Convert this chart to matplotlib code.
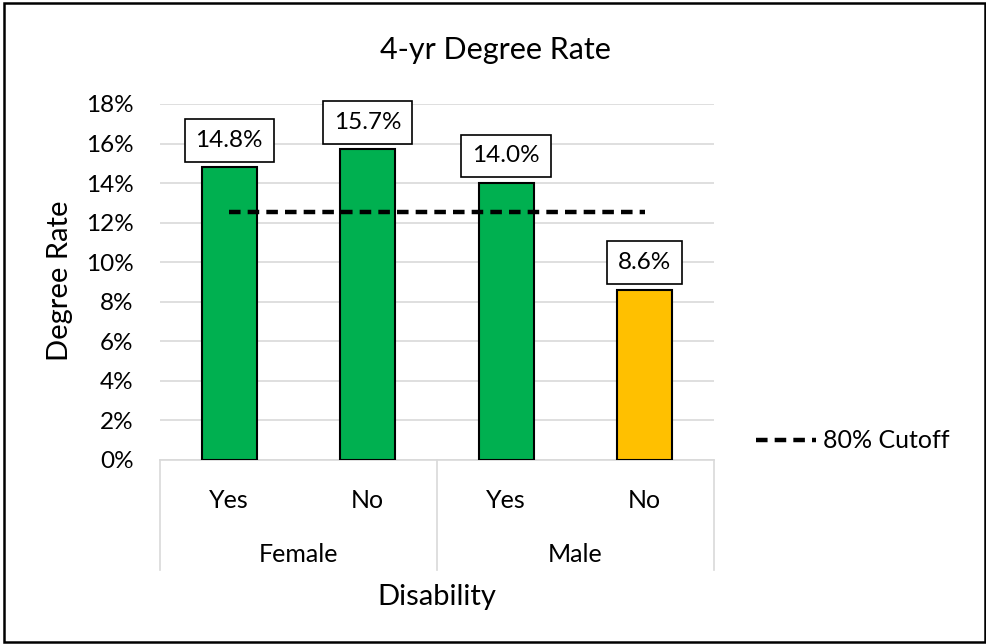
import matplotlib
matplotlib.use("Agg")
import matplotlib.pyplot as plt
import matplotlib.transforms as mtransforms
from matplotlib.lines import Line2D
from matplotlib.patches import Rectangle
from matplotlib.ticker import PercentFormatter

plt.rcParams['font.family'] = ['Lato', 'DejaVu Sans']

# data
disability = ["Yes", "No", "Yes", "No"]
gender = ["Female", "Male"]
degree_rate = [0.148, 0.157, 0.140, 0.086]
bar_colors = ["#00B050", "#00B050", "#00B050", "#FFC000"]
cutoff = 0.8 * max(degree_rate)

W, H = 987, 644
fig = plt.figure(figsize=(W / 100, H / 100), dpi=100)

# plot area in pixel coords (left, top, right, bottom)
left, top, right, bottom = 160, 104, 714, 460
ax = fig.add_axes([left / W, 1 - bottom / H, (right - left) / W, (bottom - top) / H])

x = list(range(len(degree_rate)))
ax.bar(x, degree_rate, width=0.4, color=bar_colors, edgecolor="black", linewidth=1.5, zorder=3)
ax.plot([x[0], x[-1]], [cutoff, cutoff], color="black", lw=3.2, dashes=(2.6, 1.6), zorder=4)

# value labels in boxes
for xi, v in zip(x, degree_rate):
    ax.annotate(f"{v * 100:.1f}%", xy=(xi, v), xytext=(0, 12), textcoords="offset points",
                ha="center", va="bottom", fontsize=17.5, zorder=5,
                bbox=dict(boxstyle="square,pad=0.45", facecolor="white", edgecolor="black", lw=1.2))

ax.set_xlim(-0.5, 3.5)
ax.set_ylim(0, 0.18)
ax.set_yticks([i / 100 for i in range(0, 19, 2)])
ax.yaxis.set_major_formatter(PercentFormatter(1.0, decimals=0))
ax.tick_params(axis="y", length=0, labelsize=17.5, pad=19)
ax.set_xticks([])
ax.grid(axis="y", color="#d9d9d9", lw=1.2, zorder=0)
for s in ["top", "right", "left"]:
    ax.spines[s].set_visible(False)
ax.spines["bottom"].set_color("#d9d9d9")
ax.spines["bottom"].set_linewidth(1.2)

# multi-level category axis
trans = mtransforms.blended_transform_factory(ax.transData, ax.transAxes)
ph = bottom - top
sep_bottom = -(570 - bottom) / ph
for xs in [-0.5, 1.5, 3.5]:
    ax.add_line(Line2D([xs, xs], [0, sep_bottom], transform=trans, color="#d9d9d9",
                       lw=1.2, clip_on=False))
for xi, lab in zip(x, disability):
    ax.text(xi, -(500 - bottom) / ph, lab, transform=trans, ha="center", va="center", fontsize=18)
for gi, lab in enumerate(gender):
    ax.text(0.5 + 2 * gi, -(555 - bottom) / ph, lab, transform=trans, ha="center", va="center",
            fontsize=18)

fig.text(0.5 * (left + right) / W, 1 - 597 / H, "Disability", ha="center", va="center", fontsize=21)
fig.text(60 / W, 1 - 281 / H, "Degree Rate", ha="center", va="center", rotation=90, fontsize=21)
fig.text(495 / W, 1 - 50 / H, "4-yr Degree Rate", ha="center", va="center", fontsize=22)

# legend
handle = Line2D([], [], color="black", lw=3.2, dashes=(2.6, 1.6))
ax.legend([handle], ["80% Cutoff"], loc="center left", bbox_to_anchor=(744 / W, 1 - 441 / H),
          bbox_transform=fig.transFigure, frameon=False, fontsize=18, handlelength=2.4,
          handletextpad=0.25, borderpad=0)

# chart border
fig.patches.append(Rectangle((4 / W, 1 - 642 / H), 981 / W, 639 / H, transform=fig.transFigure,
                             fill=False, edgecolor="black", lw=1.8))

fig.savefig("out.png", dpi=100)
